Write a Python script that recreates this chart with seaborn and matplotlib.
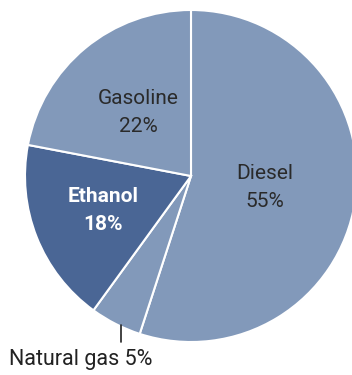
import numpy as np
import matplotlib
matplotlib.use("Agg")
import matplotlib.pyplot as plt
import seaborn as sns

categories = ["Diesel", "Natural gas", "Ethanol", "Gasoline"]
shares = [55, 5, 18, 22]

sns.set_theme(style="white")
plt.rcParams['font.family'] = ['Roboto', 'DejaVu Sans']

light = "#8299BA"
dark = "#4A6695"
colors = [light, light, dark, light]

fig = plt.figure(figsize=(3.52, 3.75), dpi=100)
cx, cy, r = 191, 176, 166
W, H = 352, 375
ax = fig.add_axes([(cx - r) / W, (H - cy - r) / H, 2 * r / W, 2 * r / H])
wedges, _ = ax.pie(shares, colors=colors, startangle=90, counterclock=False,
                   wedgeprops=dict(edgecolor="white", linewidth=1.5))
ax.set_xlim(-1, 1)
ax.set_ylim(-1, 1)
ax.set_aspect("equal")
ax.axis("off")
for w in wedges:
    w.set_clip_on(False)

def mid(w):
    return np.deg2rad((w.theta1 + w.theta2) / 2)

label_r = {"Diesel": 0.45, "Ethanol": 0.57, "Gasoline": 0.50}
for w, name, val in zip(wedges, categories, shares):
    a = mid(w)
    if name == "Natural gas":
        x0, y0 = np.cos(a) * 1.0, np.sin(a) * 1.0
        x0 = x0 + 0.03
        ax.plot([x0, x0], [y0 - 0.005, y0 - 0.11], color="#222222", lw=1.2, clip_on=False)
        ax.text(x0 - 0.24, y0 - 0.215, f"{name} {val}%", ha="center", va="center",
                fontsize=15.5, color="#222222")
        continue
    rr = label_r[name]
    x, y = np.cos(a) * rr, np.sin(a) * rr
    if name == "Ethanol":
        ax.text(x, y, f"{name}\n{val}%", ha="center", va="center", fontsize=15,
                color="white", fontweight="bold", linespacing=1.6)
    else:
        ax.text(x, y, f"{name}\n{val}%", ha="center", va="center", fontsize=15,
                color="#2a2a2a", linespacing=1.6)

fig.savefig("out.png", dpi=100, facecolor="white")
